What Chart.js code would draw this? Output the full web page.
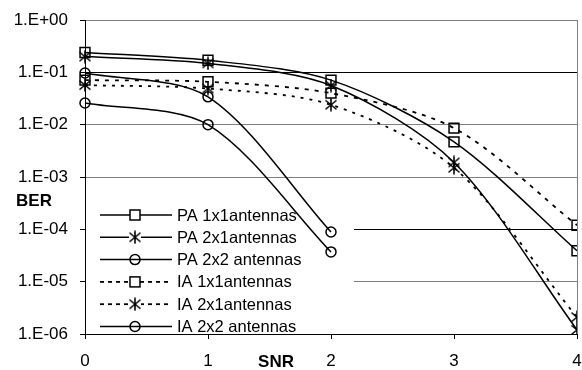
<!DOCTYPE html>
<html>
<head>
<meta charset="utf-8">
<script src="https://cdn.jsdelivr.net/npm/chart.js@4/dist/chart.umd.min.js"></script>
<style>
  html, body { margin: 0; padding: 0; background: #fff; }
  #chart { display: block; }
</style>
</head>
<body>
<canvas id="chart" width="582" height="370"></canvas>
<script>
// SNR steps on the x axis
const snrSteps = [0, 1, 2, 3, 4];

// BER per series
const paOneByOne = [0.24, 0.17, 0.071, 0.0047, 3.9e-5];
const paTwoByOne = [0.2, 0.148, 0.056, 0.0019, 1.2e-6];
const paTwoByTwo = [0.097, 0.034, 8.9e-5];
const iaOneByOne = [0.071, 0.066, 0.04, 0.0086, 1.2e-4];
const iaTwoByOne = [0.057, 0.049, 0.024, 0.0015, 2.1e-6];
const iaTwoByTwo = [0.026, 0.01, 3.7e-5];

const seriesLabels = [
  "PA 1x1antennas",
  "PA 2x1antennas",
  "PA 2x2 antennas",
  "IA 1x1antennas",
  "IA 2x1antennas",
  "IA 2x2 antennas",
];

// decades shown on the BER axis
const berExponents = [-6, -5, -4, -3, -2, -1, 0];

const FONT = '"Liberation Sans", Arial, sans-serif';
const INK = "#000";
const GRID_GREY = "#808080";

// asterisk marker: vertical bar plus an X, no horizontal bar
function makeAsterisk() {
  const c = document.createElement("canvas");
  c.width = 14;
  c.height = 14;
  const g = c.getContext("2d");
  g.strokeStyle = INK;
  g.lineWidth = 1.6;
  g.beginPath();
  g.moveTo(7, 0.5);
  g.lineTo(7, 13.5);
  g.moveTo(1.5, 2.5);
  g.lineTo(12.5, 11.5);
  g.moveTo(12.5, 2.5);
  g.lineTo(1.5, 11.5);
  g.stroke();
  return c;
}
const asterisk = makeAsterisk();

function toPoints(values) {
  return values.map((v, i) => ({ x: snrSteps[i], y: v }));
}

function series(label, values, marker, dash) {
  const isDotted = dash.length > 0;
  return {
    label,
    data: toPoints(values),
    borderColor: INK,
    borderWidth: isDotted ? 1.8 : 1.5,
    borderDash: dash,
    tension: 0.3,
    fill: false,
    pointStyle: marker,
    pointRadius: marker === "rect" ? 7 : 5,
    pointBorderColor: INK,
    pointBackgroundColor: "rgba(0,0,0,0)",
    pointBorderWidth: 1.5,
    clip: { left: 10, top: 10, right: 0, bottom: 0 },
  };
}

const datasets = [
  series(seriesLabels[0], paOneByOne, "rect", []),
  series(seriesLabels[1], paTwoByOne, asterisk, []),
  series(seriesLabels[2], paTwoByTwo, "circle", []),
  series(seriesLabels[3], iaOneByOne, "rect", [4, 6]),
  series(seriesLabels[4], iaTwoByOne, asterisk, [3, 6]),
  series(seriesLabels[5], iaTwoByTwo, "circle", []),
];

function berLabel(value) {
  const e = Math.round(Math.log10(value));
  return "1.E" + (e < 0 ? "-" : "+") + String(Math.abs(e)).padStart(2, "0");
}

// legend sits inside the plot, bottom left, on a white patch
const legendInPlot = {
  id: "legendInPlot",
  beforeDatasetsDraw(chart) {
    const ctx = chart.ctx;
    const area = chart.chartArea;
    const boxRight = 354;
    const boxTop = 203;
    ctx.save();
    ctx.fillStyle = "#fff";
    ctx.fillRect(area.left + 1, boxTop, boxRight - area.left - 1, area.bottom - boxTop);
    ctx.font = "16.5px " + FONT;
    ctx.textBaseline = "middle";
    ctx.textAlign = "left";
    chart.data.datasets.forEach((ds, i) => {
      const y = 215 + i * 22.3;
      ctx.strokeStyle = INK;
      ctx.lineWidth = ds.borderWidth;
      ctx.setLineDash(ds.borderDash.length ? [4, 4] : []);
      ctx.beginPath();
      ctx.moveTo(100, y);
      ctx.lineTo(172, y);
      ctx.stroke();
      ctx.setLineDash([]);
      ctx.lineWidth = 1.5;
      const mx = 135;
      if (ds.pointStyle === "rect") {
        ctx.fillStyle = "#fff";
        ctx.fillRect(mx - 5, y - 5, 10, 10);
        ctx.strokeRect(mx - 5, y - 5, 10, 10);
      } else if (ds.pointStyle === "circle") {
        ctx.beginPath();
        ctx.arc(mx, y, 5, 0, Math.PI * 2);
        ctx.stroke();
      } else {
        ctx.fillStyle = "#fff";
        ctx.fillRect(mx - 6, y - 6, 12, 12);
        ctx.drawImage(ds.pointStyle, mx - 7, y - 7);
      }
      ctx.fillStyle = INK;
      ctx.fillText(ds.label, 177, y + 1);
    });
    ctx.restore();
  },
  afterDraw(chart) {
    const ctx = chart.ctx;
    ctx.save();
    ctx.fillStyle = INK;
    ctx.font = "bold 17px " + FONT;
    ctx.textAlign = "center";
    ctx.textBaseline = "middle";
    ctx.fillText("BER", 34, 201);
    ctx.fillText("SNR", 276, 362);
    ctx.restore();
  },
};

new Chart(document.getElementById("chart").getContext("2d"), {
  type: "line",
  data: { datasets },
  options: {
    responsive: false,
    animation: false,
    events: [],
    layout: {
      autoPadding: false,
      padding: { top: 20, right: 5, left: 0, bottom: 0 },
    },
    plugins: {
      legend: { display: false },
      tooltip: { enabled: false },
    },
    scales: {
      x: {
        type: "linear",
        min: 0,
        max: 4,
        afterFit(scale) {
          scale.height = 36;
          scale.paddingLeft = 0;
          scale.paddingRight = 0;
        },
        ticks: {
          stepSize: 1,
          color: INK,
          padding: 12,
          font: { family: FONT, size: 17 },
        },
        grid: {
          color: (ctx) => (ctx.index === 4 ? GRID_GREY : "rgba(0,0,0,0)"),
          tickColor: INK,
          tickLength: 5,
        },
        border: { color: INK, width: 1 },
      },
      y: {
        type: "logarithmic",
        min: 1e-6,
        max: 1,
        afterFit(scale) {
          scale.width = 85;
          scale.paddingTop = 0;
          scale.paddingBottom = 0;
        },
        afterBuildTicks(scale) {
          scale.ticks = berExponents.map((e) => ({ value: Math.pow(10, e) }));
        },
        ticks: {
          color: INK,
          padding: 12,
          font: { family: FONT, size: 17 },
          callback: (value) => berLabel(value),
        },
        grid: {
          color: (ctx) => {
            const e = Math.round(Math.log10(ctx.tick.value));
            return e === -1 || e === -4 ? INK : GRID_GREY;
          },
          tickColor: INK,
          tickLength: 5,
        },
        border: { color: INK, width: 1 },
      },
    },
  },
  plugins: [legendInPlot],
});
</script>
</body>
</html>
